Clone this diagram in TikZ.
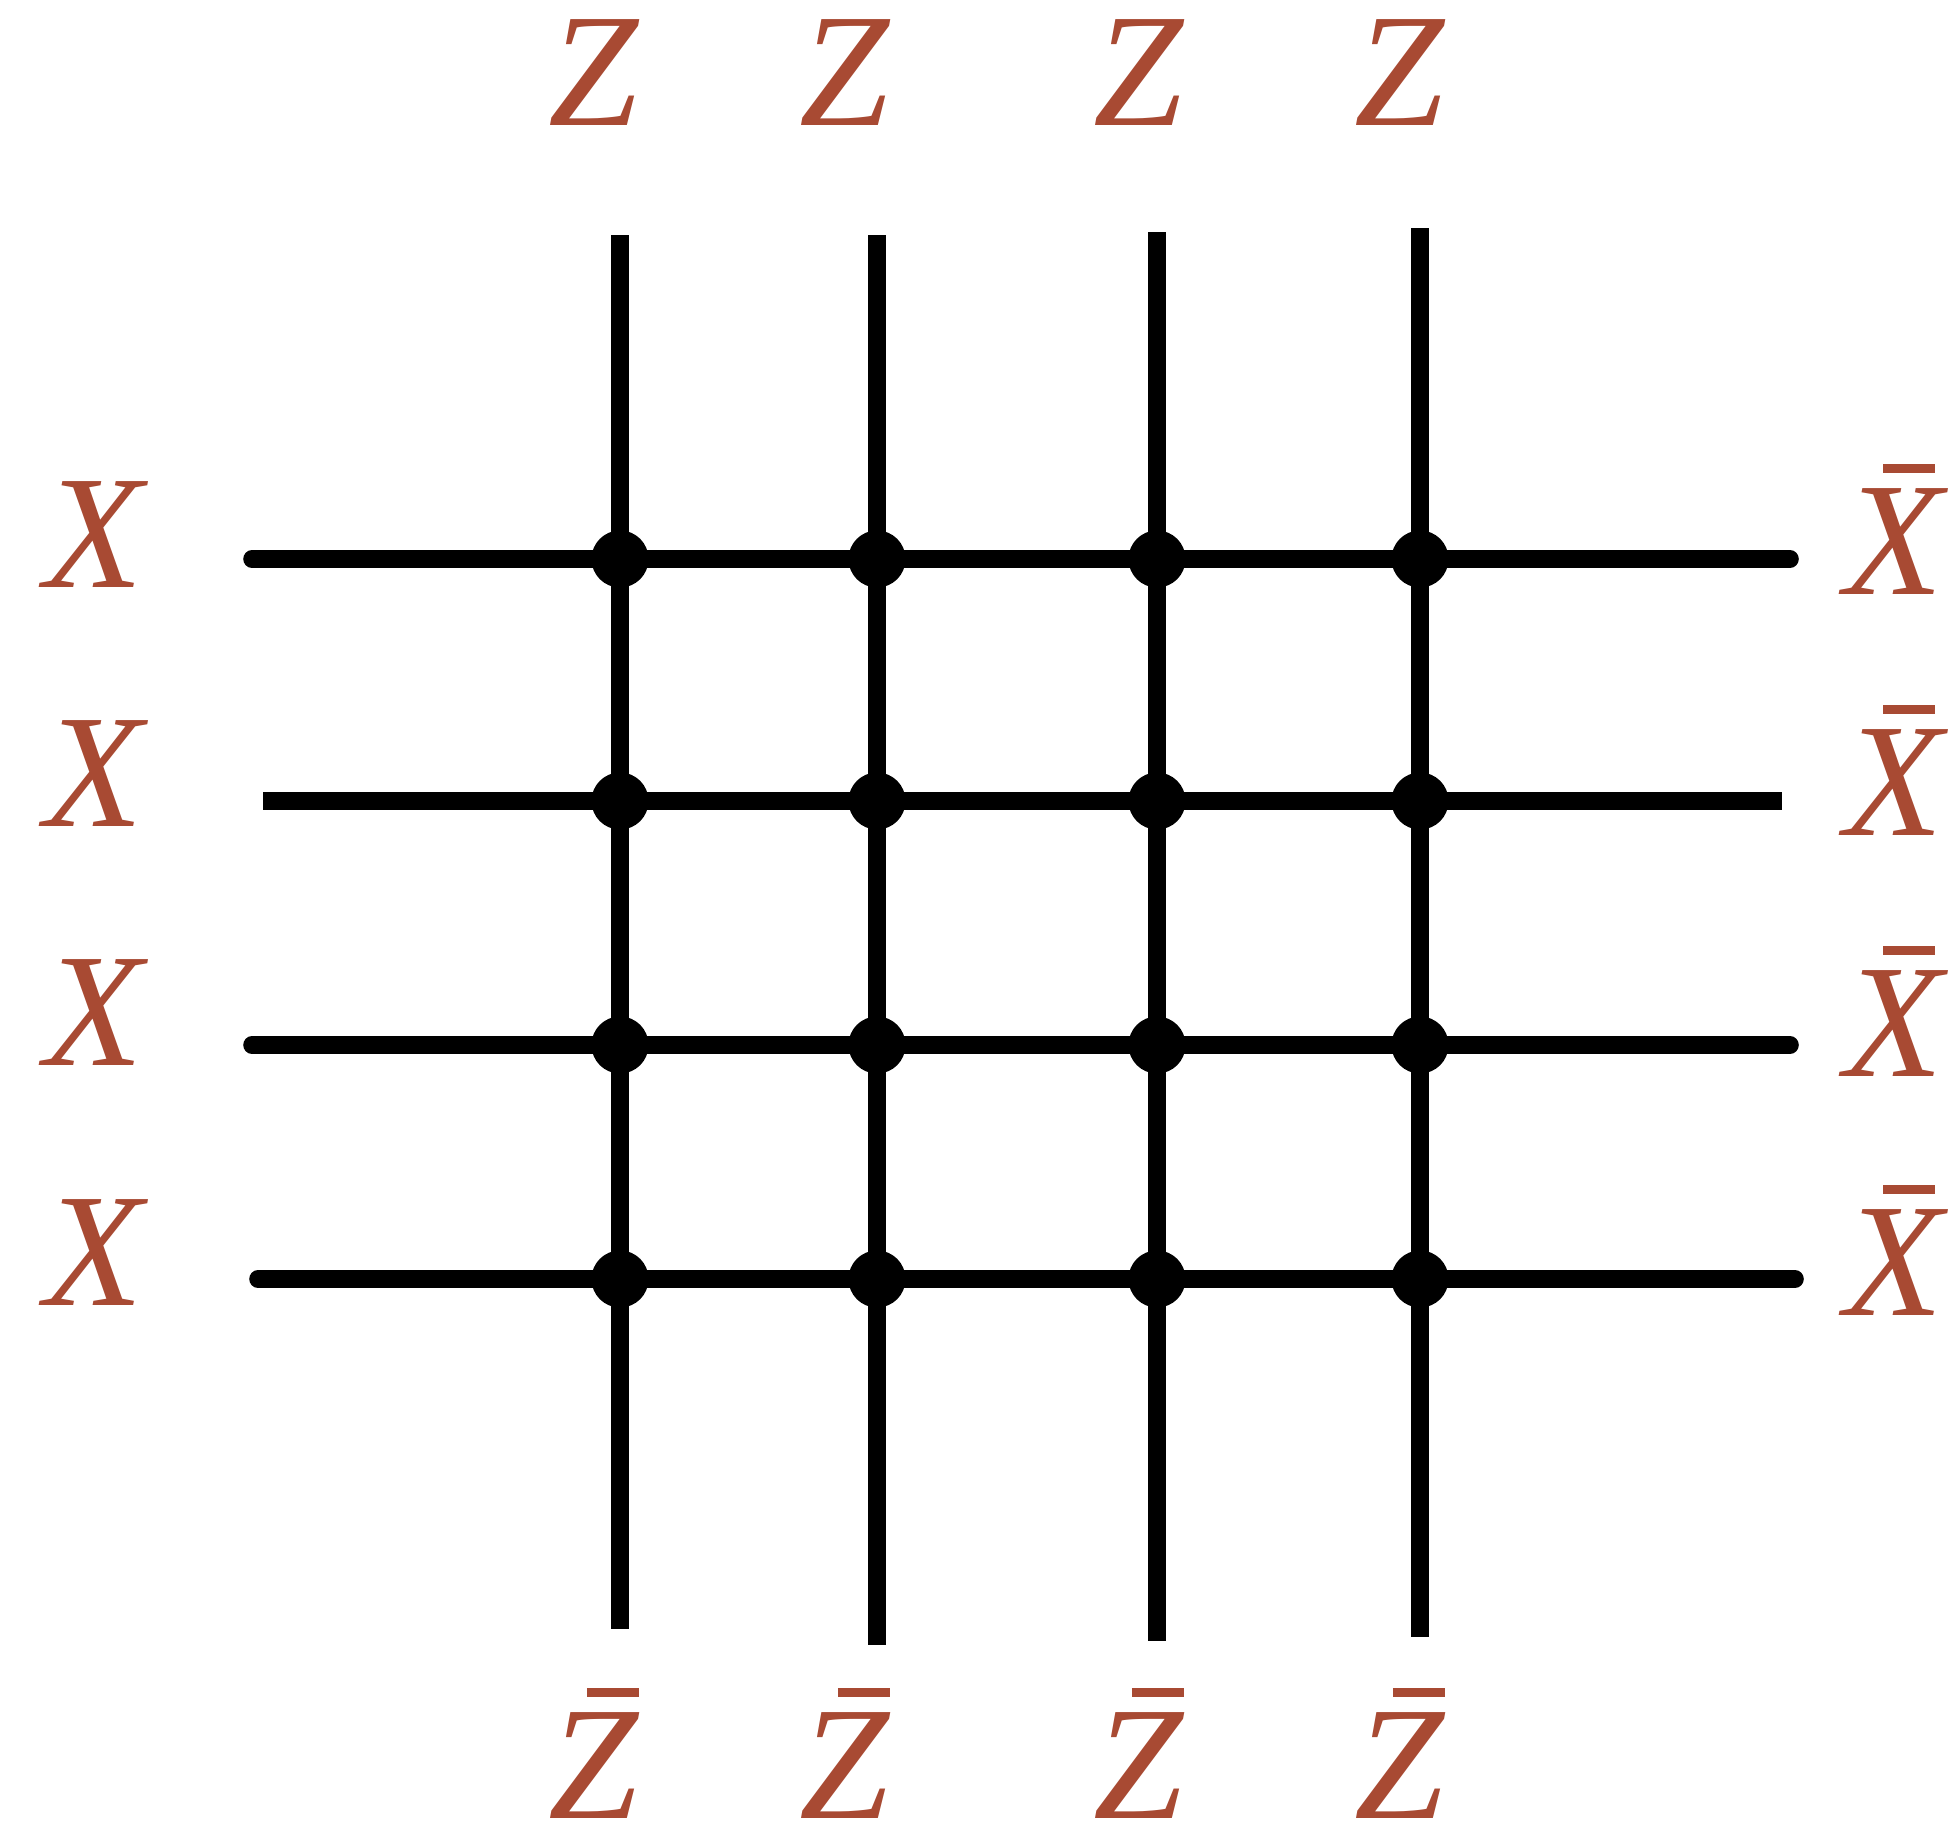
\documentclass[tikz,border=0pt]{standalone}
\usepackage{fontspec}
\setmainfont{Liberation Serif}
\definecolor{labred}{RGB}{168,74,51}
\tikzset{
  vline/.style={line width=5pt},
  wire/.style={line width=5pt,line cap=round},
  vtx/.style={circle,fill=black,inner sep=0pt,minimum size=0.57cm},
  lab/.style={text=labred,font=\fontsize{46}{46}\selectfont\itshape,inner sep=0pt,anchor=base},
}
\newcommand{\barred}[1]{\rlap{\hspace{0.24em}\rule[0.75em]{0.32em}{0.055em}}#1}

\begin{document}
\begin{tikzpicture}[x=0.01cm,y=-0.01cm]
    \useasboundingbox (0,0) rectangle (1957,1836);
    % wire ends
    \foreach \i/\x/\top/\bot in {1/620/235/1629,2/877/235/1645,3/1157/232/1641,4/1420/228/1637} {
      \coordinate (t\i) at (\x,\top);
      \coordinate (b\i) at (\x,\bot);
    }
    \foreach \j/\y/\lft/\rgt in {1/559/252/1790,2/801/263/1782,3/1045/252/1790,4/1279/258/1795} {
      \coordinate (l\j) at (\lft,\y);
      \coordinate (r\j) at (\rgt,\y);
    }
    \foreach \i in {1,...,4} \draw[vline] (t\i) -- (b\i);
    \draw[wire] (l1) -- (r1);
    \draw[vline] (l2) -- (r2);
    \draw[wire] (l3) -- (r3);
    \draw[wire] (l4) -- (r4);
    \foreach \i in {1,...,4} \foreach \j in {1,...,4}
      \node[vtx] (v\i\j) at (t\i |- l\j) {};
    % labels
    \foreach \i/\x in {1/593,2/844,3/1138,4/1399} {
      \node[lab] (zt\i) at (\x,125) {Z};
      \node[lab] (zb\i) at (\x,1818) {\barred{Z}};
    }
    \foreach \j/\yl/\yr in {1/587/594,2/826/835,3/1065/1076,4/1305/1315} {
      \node[lab] (xl\j) at (94,\yl) {X};
      \node[lab] (xr\j) at (1894,\yr) {\barred{X}};
    }
\end{tikzpicture}
\end{document}
